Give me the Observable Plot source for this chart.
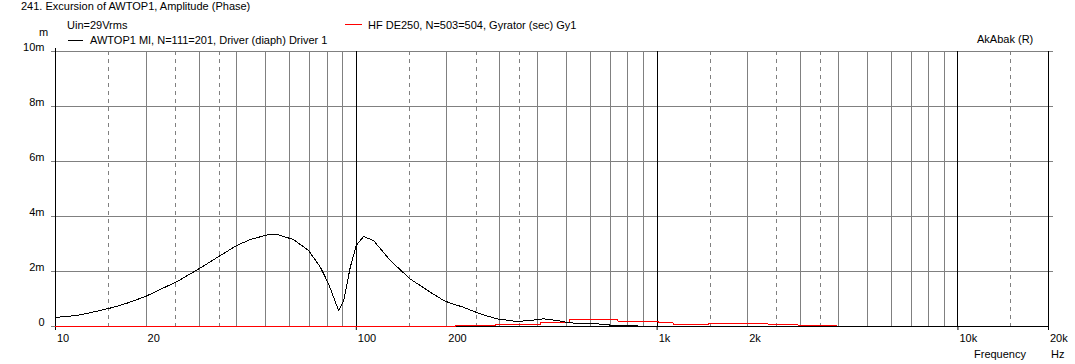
<!DOCTYPE html>
<html><head><meta charset="utf-8">
<script src="https://cdn.jsdelivr.net/npm/d3@7"></script>
<script src="https://cdn.jsdelivr.net/npm/@observablehq/plot@0.6"></script>
<style>
body{margin:0;background:#fff;}
#wrap{position:relative;width:1075px;height:364px;font-family:"Liberation Sans",Arial,sans-serif;font-size:11px;color:#000;overflow:hidden;}
.t{position:absolute;white-space:nowrap;line-height:11px;}
.sw{position:absolute;height:0;width:15px;border-top:1px solid;}
#chart{position:absolute;left:0;top:0;}
</style></head><body>
<div id="wrap">
  <div id="chart"></div>
  <div class="t" style="left:21px;top:1px">241. Excursion of AWTOP1, Amplitude (Phase)</div>
  <div class="t" style="left:67px;top:20px">Uin=29Vrms</div>
  <div class="sw" style="left:68px;top:40px;border-color:#000"></div>
  <div class="t" style="left:90px;top:35px">AWTOP1 MI, N=111=201, Driver (diaph) Driver 1</div>
  <div class="sw" style="left:345px;top:24px;width:17px;border-color:#f00"></div>
  <div class="t" style="left:368px;top:20px">HF DE250, N=503=504, Gyrator (sec) Gy1</div>
  <div class="t" style="left:39px;top:27px">m</div>
  <div class="t" style="left:977px;top:34px">AkAbak (R)</div>
  <div class="t" style="left:974px;top:349px">Frequency</div>
  <div class="t" style="left:1051px;top:349px">Hz</div>
</div>
<script>
// Driver 1 (black) excursion, mm
const freqBlack = [10, 11.8, 13.8, 15.6, 17.3, 19.9, 25.4, 29.6, 35.3, 40.1, 44.4, 50.5, 55.2, 61.9, 69.4, 75.9, 80.9, 87.3, 90.8, 95.5, 100, 105.7, 114, 129.7, 151, 176, 195, 203, 227, 258, 293, 342, 378, 419, 464, 514, 630, 716, 860];
const excBlack  = [0.33, 0.40, 0.56, 0.70, 0.85, 1.09, 1.64, 2.06, 2.58, 2.95, 3.16, 3.33, 3.33, 3.16, 2.76, 2.16, 1.55, 0.58, 0.95, 2.16, 2.95, 3.27, 3.13, 2.40, 1.73, 1.25, 0.95, 0.87, 0.70, 0.46, 0.28, 0.18, 0.22, 0.28, 0.22, 0.13, 0.10, 0.04, 0.03];
// Gyrator Gy1 (red) excursion, mm (stepped)
const freqRed = [10, 213, 290, 408, 510, 741, 1007, 1130, 1477, 2337, 2941, 3963];
const excRed  = [0, 0.04, 0.07, 0.13, 0.24, 0.19, 0.13, 0.06, 0.10, 0.06, 0.03, 0.03];
// axis ticks
const xTickValues = [10, 20, 50, 100, 200, 500, 1000, 2000, 5000, 10000, 20000];
const xTickLabels = ["10", "20", "50", "100", "200", "500", "1k", "2k", "5k", "10k", "20k"];
const yTickValues = [0, 2, 4, 6, 8, 10];
const yTickLabels = ["0", "2m", "4m", "6m", "8m", "10m"];
const decades = [10, 100, 1000, 10000];
const solidMultipliers = [2, 3, 4, 5, 6, 7, 8, 9];
const dashedMultipliers = [1.5, 2.5, 3.5];

const xMin = 10, xMax = 20000;
const gridSolid = decades.flatMap(d => solidMultipliers.map(m => m * d)).filter(v => v < xMax);
const gridDashed = decades.flatMap(d => dashedMultipliers.map(m => m * d)).filter(v => v < xMax);

const black = freqBlack.map((f, i) => ({f, v: excBlack[i]}));
const red = freqRed.map((f, i) => ({f, v: excRed[i]}));

const plot = Plot.plot({
  width: 1075, height: 364,
  marginLeft: 55, marginRight: 27, marginTop: 51, marginBottom: 38,
  x: {type: "log", domain: [xMin, xMax]},
  y: {domain: [0, 10]},
  style: {fontFamily: "'Liberation Sans', Arial, sans-serif", fontSize: "11px", background: "transparent", color: "black"},
  marks: [
    Plot.ruleY([2, 4, 6, 8, 10], {stroke: "#808080", shapeRendering: "crispEdges"}),
    Plot.ruleX(gridSolid, {stroke: "#808080", shapeRendering: "crispEdges"}),
    Plot.ruleX(gridDashed, {stroke: "#808080", strokeDasharray: "4,4", shapeRendering: "crispEdges"}),
    Plot.ruleX([100, 1000, 10000], {stroke: "black", shapeRendering: "crispEdges"}),
    Plot.ruleX([xMin, xMax], {stroke: "black", shapeRendering: "crispEdges"}),
    Plot.ruleY([0], {stroke: "black", shapeRendering: "crispEdges"}),
    Plot.axisY({ticks: yTickValues, tickSize: 4, fill: "none", stroke: "#808080", label: null}),
    Plot.axisY({anchor: "right", ticks: [2, 4, 6, 8, 10], tickSize: 4, fill: "none", stroke: "#808080", label: null}),
    Plot.axisY({ticks: yTickValues, tickFormat: (d) => yTickLabels[yTickValues.indexOf(d)], tickSize: 0, tickPadding: 11, dy: -4, label: null}),
    Plot.axisX({ticks: [10, 100, 1000, 10000, 20000], tickSize: 4, fill: "none", stroke: "black", label: null}),
    Plot.axisX({anchor: "top", ticks: [10], tickSize: 4, fill: "none", stroke: "black", label: null}),
    Plot.axisX({ticks: xTickValues, tickFormat: (d) => xTickLabels[xTickValues.indexOf(d)], tickSize: 0, tickPadding: 8, textAnchor: "start", dx: 1.5, label: null}),
    Plot.line(red, {x: "f", y: "v", stroke: "#ff0000", strokeWidth: 1, curve: "step-after", shapeRendering: "crispEdges"}),
    Plot.line(black, {x: "f", y: "v", stroke: "black", strokeWidth: 1, shapeRendering: "crispEdges"})
  ]
});
document.getElementById("chart").appendChild(plot);
</script>
</body></html>
